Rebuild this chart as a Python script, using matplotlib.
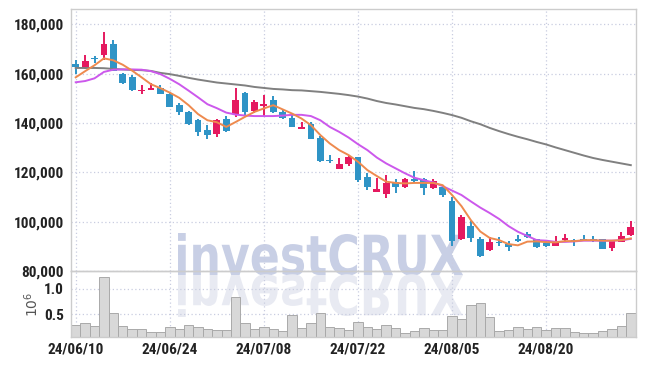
import numpy as np
import pandas as pd
import matplotlib
matplotlib.use("Agg")
import matplotlib.pyplot as plt
from matplotlib import font_manager as fm
from matplotlib.textpath import TextPath
from matplotlib.patches import PathPatch
from matplotlib.font_manager import FontProperties
from matplotlib.transforms import Affine2D

# trading days (8/15 is a holiday)
dates = pd.bdate_range("2024-06-10", "2024-09-02")
dates = dates[dates != pd.Timestamp("2024-08-15")]

opens = [164100, 162700, 166300, 167450, 171900, 159750, 158650, 152900, 153400, 154000,
         151650, 147200, 144300, 141100, 137100, 135350, 141800, 143450, 151950, 144900,
         146900, 149200, 144650, 142100, 137600, 139650, 133950, 125050, 121400, 123450,
         126300, 117950, 112100, 111050, 116150, 114150, 117100, 117100, 113750, 114150,
         108350, 93100, 98200, 93100, 88500, 91900, 90900, 93100, 95000, 93100,
         91200, 90250, 92700, 92400, 92950, 92950, 92950, 89200, 91850, 94500]
highs = [165700, 167450, 167200, 177050, 173500, 160300, 159350, 155300, 156100, 155300,
         152600, 147900, 144900, 141500, 139100, 141550, 142750, 154000, 152600, 149500,
         151500, 150850, 145450, 143450, 140450, 140200, 134650, 126850, 125750, 126550,
         126300, 119550, 117550, 118850, 117100, 117550, 120600, 117550, 117100, 114800,
         110100, 102550, 100350, 93900, 93900, 93900, 92150, 94600, 95900, 93100,
         92550, 94200, 95000, 92950, 94600, 94200, 93100, 92550, 95800, 100350]
lows = [159800, 161800, 164500, 165450, 161000, 156000, 153000, 151700, 153300, 151700,
        146500, 143100, 139300, 134650, 133700, 134400, 136400, 142250, 142900, 143850,
        142750, 144100, 141500, 138400, 137600, 133500, 124100, 123850, 121400, 122500,
        116150, 112800, 112100, 109450, 111450, 113500, 116150, 110750, 113100, 110100,
        90100, 92550, 91850, 85550, 88100, 90250, 88200, 91600, 93250, 89200,
        89750, 90100, 92250, 90250, 92150, 91600, 89000, 88100, 91600, 94200]
closes = [162700, 165000, 165900, 171900, 161100, 156250, 153300, 153400, 154000, 151800,
          146550, 144500, 139500, 136150, 135100, 141100, 136800, 149500, 144250, 148300,
          147600, 144500, 142200, 138400, 138300, 133550, 124550, 124400, 123350, 126050,
          116850, 114150, 113200, 115750, 114150, 117100, 116400, 113750, 116400, 110750,
          92150, 101900, 93500, 86200, 91750, 91200, 89600, 92000, 93650, 89600,
          90250, 91850, 93500, 91850, 92400, 92300, 89000, 92550, 94200, 97800]

ma_short = [158500, 161000, 163400, 166200, 165400, 163600, 161200, 158500, 155700, 154100,
            152300, 150200, 147200, 143600, 141100, 140300, 138400, 140400, 142500, 144500,
            145900, 147200, 145500, 143800, 141800, 139100, 135100, 131700, 129000, 127000,
            124300, 120900, 118500, 116200, 115700, 115500, 115700, 115700, 115700, 114800,
            110800, 106300, 100600, 96000, 93400, 92500, 90900, 90400, 91900, 92000,
            91700, 91600, 92100, 92100, 92500, 92500, 92300, 92300, 92500, 93200]
ma_mid = [156500, 157000, 158100, 160700, 161600, 161700, 161700, 161600, 161000, 159800,
          157900, 155700, 153100, 150400, 147600, 146000, 144200, 143400, 143000, 142800,
          142800, 142800, 143000, 143300, 143300, 142800, 141100, 138400, 136400, 134100,
          131400, 129000, 126000, 123600, 121600, 119600, 117800, 116800, 115900, 114400,
          112600, 110800, 108200, 105700, 103500, 101100, 98200, 95900, 94200, 92500,
          92300, 91800, 91800, 92000, 92300, 92300, 92300, 92300, 92500, 93000]
ma_long = [162300, 162300, 162300, 162200, 161900, 161700, 161500, 161400, 161100, 160300,
           159800, 159100, 158300, 157600, 157000, 156400, 156000, 155600, 155200, 154600,
           154200, 153800, 153600, 153300, 153200, 152900, 152600, 152200, 151800, 151300,
           150700, 149900, 148900, 148100, 147500, 146800, 146100, 145600, 144900, 144100,
           143200, 142100, 140700, 139500, 138000, 136700, 135500, 134400, 133400, 132300,
           131300, 130100, 129000, 127900, 126800, 125800, 125000, 124300, 123600, 122900]

volumes = [0.288, 0.328, 0.268, 1.228, 0.528, 0.268, 0.208, 0.208, 0.148, 0.148,
           0.248, 0.208, 0.288, 0.248, 0.208, 0.188, 0.188, 0.848, 0.328, 0.208,
           0.248, 0.208, 0.168, 0.488, 0.228, 0.328, 0.528, 0.248, 0.228, 0.188,
           0.354, 0.248, 0.208, 0.288, 0.228, 0.128, 0.168, 0.228, 0.188, 0.188,
           0.468, 0.408, 0.688, 0.728, 0.448, 0.168, 0.188, 0.248, 0.208, 0.248,
           0.188, 0.228, 0.228, 0.148, 0.128, 0.128, 0.168, 0.208, 0.268, 0.528]

UP = "#e5195f"
DOWN = "#2f94c6"
GRID = "#c9cde0"
SPINE = "#cccccc"

# pick a narrow font for the tick labels if one is installed
fonts = fm.fontManager.ttflist
names = {f.name for f in fonts}
tick_props = dict(family="Roboto", weight="bold", size=10)
for cand in ["Liberation Sans Narrow", "Roboto Condensed", "Open Sans Condensed"]:
    if cand in names:
        tick_props = dict(family=cand, weight="bold", size=11)
        break
else:
    if any(f.name == "DejaVu Sans" and f.stretch == "condensed" for f in fonts):
        tick_props = dict(family="DejaVu Sans", stretch="condensed", weight="bold", size=10)

o = np.array(opens); h = np.array(highs); l = np.array(lows); c = np.array(closes)
x = np.arange(len(dates))
colors = [UP if cc >= oo else DOWN for oo, cc in zip(o, c)]

fig = plt.figure(figsize=(6.45, 3.66), dpi=100)
fig.patch.set_facecolor("white")
ax = fig.add_axes([0.1101, 0.2596, 0.8752, 0.7158])
axv = fig.add_axes([0.1101, 0.0784, 0.8752, 0.1812], sharex=ax)
for a in (ax, axv):
    a.set_facecolor("none")
    for s in a.spines.values():
        s.set_color(SPINE)
        s.set_linewidth(1.0)

# watermark with reflection
fp = FontProperties(family="DejaVu Sans", weight="bold")
tp = TextPath((0, 0), "investCRUX", size=1, prop=fp)
bb = tp.get_extents()
W, H = 285.0, 42.0
x0, base = 178.0, 366 - 275.0
sx, sy = W / bb.width, H / bb.y1
t_up = Affine2D().translate(-bb.x0, 0).scale(sx, sy).translate(x0, base)
t_dn = Affine2D().translate(-bb.x0, 0).scale(sx, -sy).translate(x0, base)
fig.patches.append(PathPatch(tp, transform=t_up, facecolor="#c8cfe5", edgecolor="none", zorder=-1))
fig.patches.append(PathPatch(tp, transform=t_dn, facecolor="#e8eaf2", edgecolor="none", zorder=-1))

# candles
ax.vlines(x, l, h, color=colors, linewidth=1.4, zorder=2)
body = np.maximum(np.abs(c - o), 450)
ax.bar(x, body, bottom=np.minimum(o, c), width=0.72, color=colors, linewidth=0, zorder=3)

ax.plot(x, ma_long, color="#808080", linewidth=1.4, zorder=4)
ax.plot(x, ma_mid, color="#cc58ec", linewidth=1.4, zorder=5)
ax.plot(x, ma_short, color="#ee8a4e", linewidth=1.4, zorder=6)

ax.set_xlim(-0.5, len(x) - 0.5)
ax.set_ylim(80000, 186200)
ax.set_yticks(np.arange(80000, 180001, 20000))
ax.set_yticklabels([f"{v:,}" for v in range(80000, 180001, 20000)])
tick_pos = x[::10]
ax.set_xticks(tick_pos)
ax.grid(True, color=GRID, linestyle=(0, (1, 2)), linewidth=0.9)
ax.tick_params(axis="x", labelbottom=False, length=0)
ax.tick_params(axis="y", length=0, pad=5, labelcolor="#222222")

# volume
axv.bar(x, volumes, width=1.0, color="#d8d8d8", edgecolor="#a9a9a9", linewidth=0.7, zorder=2)
axv.set_ylim(0.048, 1.354)
axv.set_yticks([0.5, 1.0])
axv.set_yticklabels(["0.5", "1.0"])
axv.set_xticks(tick_pos)
axv.set_xticklabels([d.strftime("%y/%m/%d") for d in dates[::10]])
axv.grid(True, color=GRID, linestyle=(0, (1, 2)), linewidth=0.9)
axv.tick_params(axis="both", length=0, labelcolor="#222222")
axv.tick_params(axis="y", pad=5)
axv.tick_params(axis="x", pad=4)
axv.set_ylabel("$10^6$", color="#555555", fontsize=10, labelpad=2)

for a in (ax, axv):
    for lab in a.get_xticklabels() + a.get_yticklabels():
        lab.set(**tick_props)

fig.savefig("out.png", dpi=100, facecolor="white")
